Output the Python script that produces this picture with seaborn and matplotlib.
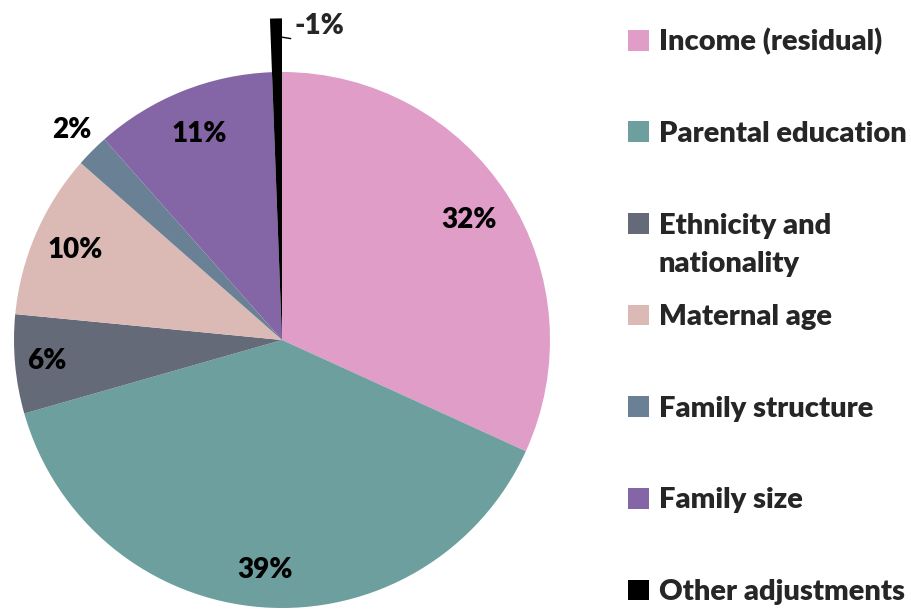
import numpy as np
import matplotlib.pyplot as plt
import seaborn as sns

categories = ['Income (residual)', 'Parental education', 'Ethnicity and',
              'Maternal age', 'Family structure', 'Family size', 'Other adjustments']
category_second_line = {2: 'nationality'}
shares = [32, 39, 6, 10, 2, 11, -0.6]
pct_labels = ['32%', '39%', '6%', '10%', '2%', '11%', '-1%']
colors = ['#DF9DC8', '#6C9F9E', '#646A78', '#DBBAB6', '#6A8094', '#8466A6', '#000000']

sns.set_style('white')
plt.rcParams['font.family'] = ['Lato', 'DejaVu Sans']
plt.rcParams['font.weight'] = 'heavy'

fig = plt.figure(figsize=(9.12, 6.13), dpi=100)
ax = fig.add_axes([-53 / 912, -62 / 613, 670 / 912, 670 / 613])

wedges, _ = ax.pie(np.abs(shares), colors=colors, startangle=90, counterclock=False,
                   wedgeprops=dict(linewidth=0))
ax.set_xlim(-1.25, 1.25)
ax.set_ylim(-1.25, 1.25)

# the small negative slice sticks out of the pie
wedges[-1].set_radius(1.2)

# percentage labels
dist = [0.83, 0.86, 0.88, 0.84, 1.11, 0.83]
for w, lab, d in zip(wedges[:-1], pct_labels[:-1], dist):
    ang = np.deg2rad((w.theta1 + w.theta2) / 2)
    ax.text(d * np.cos(ang), d * np.sin(ang), lab, ha='center', va='center',
            fontsize=20, fontweight='heavy', color='black')

w = wedges[-1]
tip = np.deg2rad(w.theta1)
ax.annotate(pct_labels[-1], xy=(1.13 * np.cos(tip), 1.13 * np.sin(tip)),
            xytext=(12, -2), textcoords='offset pixels', ha='left', va='bottom',
            fontsize=20, fontweight='heavy',
            arrowprops=dict(arrowstyle='-', color='black', lw=1, shrinkA=0, shrinkB=0,
                            relpos=(0, 0)))

leg = fig.legend(wedges, categories, loc='upper left', bbox_to_anchor=(628 / 912, 1 - 28 / 613),
                 frameon=False, handlelength=0.72, handleheight=0.72,
                 handletextpad=0.33, labelspacing=2.25, borderaxespad=0, borderpad=0,
                 prop=dict(weight='heavy', size=21))

# wrapped legend label: second line goes under the first, box stays on line one
fig.canvas.draw()
for i, txt in category_second_line.items():
    bb = leg.get_texts()[i].get_window_extent()
    fig.text(bb.x0 / 912, (bb.y0 - 38) / 613, txt, ha='left', va='bottom',
             fontsize=21, fontweight='heavy')

plt.savefig('out.png', dpi=100)
